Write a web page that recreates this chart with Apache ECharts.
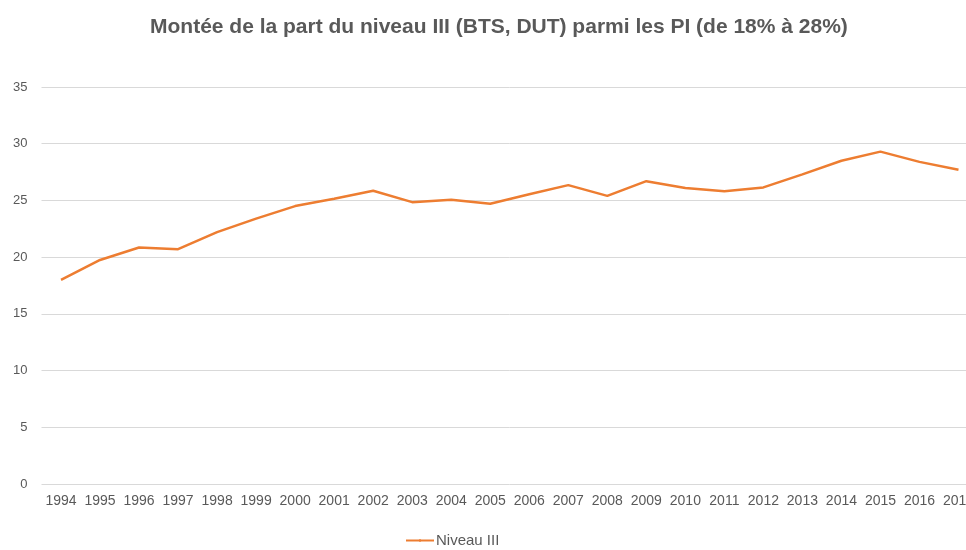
<!DOCTYPE html>
<html>
<head>
<meta charset="utf-8">
<script src="https://cdn.jsdelivr.net/npm/echarts@6/dist/echarts.min.js"></script>
<style>
html, body { margin: 0; padding: 0; background: #fff; overflow: hidden; }
#chart { width: 978px; height: 550px; }
</style>
</head>
<body>
<div id="chart"></div>
<script>
var years = ['1994','1995','1996','1997','1998','1999','2000','2001','2002','2003','2004','2005',
             '2006','2007','2008','2009','2010','2011','2012','2013','2014','2015','2016','2017'];
var niveauIII = [18.0, 19.75, 20.85, 20.7, 22.2, 23.4, 24.5, 25.15, 25.85, 24.85, 25.05, 24.7,
                 25.55, 26.35, 25.4, 26.7, 26.1, 25.8, 26.15, 27.3, 28.5, 29.3, 28.4, 27.7];
var yTicks = { min: 0, max: 35, step: 5 };

// the plot runs past the right edge of the 966px window, like the original
var chart = echarts.init(document.getElementById('chart'));
var txt = '#595959';

chart.setOption({
    animation: false,
    title: {
        text: 'Montée de la part du niveau III (BTS, DUT) parmi les PI (de 18% à 28%)',
        left: 145,
        top: 12,
        textStyle: { fontFamily: 'Liberation Sans', fontSize: 21, fontWeight: 'bold', color: txt }
    },
    legend: {
        top: 528,
        left: 400,
        itemWidth: 28,
        itemHeight: 3,
        itemGap: 2,
        textStyle: { fontFamily: 'Liberation Sans', fontSize: 15, color: txt, padding: [0, 0, 0, -3] },
        data: ['Niveau III']
    },
    grid: { left: 41.5, right: 0, top: 87, bottom: 66, containLabel: false },
    xAxis: {
        type: 'category',
        data: years,
        boundaryGap: true,
        axisLine: { show: false },
        axisTick: { show: false },
        axisLabel: { color: txt, fontFamily: 'Liberation Sans', fontSize: 14, margin: 10, interval: 0 }
    },
    yAxis: {
        type: 'value',
        min: yTicks.min,
        max: yTicks.max,
        interval: yTicks.step,
        axisLine: { show: false },
        axisTick: { show: false },
        axisLabel: { color: txt, fontFamily: 'Liberation Sans', fontSize: 13, margin: 14 },
        splitLine: { lineStyle: { color: '#D9D9D9', width: 1 } }
    },
    series: [{
        name: 'Niveau III',
        type: 'line',
        data: niveauIII,
        symbol: 'none',
        lineStyle: { color: '#ED7D31', width: 2.5 },
        itemStyle: { color: '#ED7D31' }
    }]
});
</script>
</body>
</html>
